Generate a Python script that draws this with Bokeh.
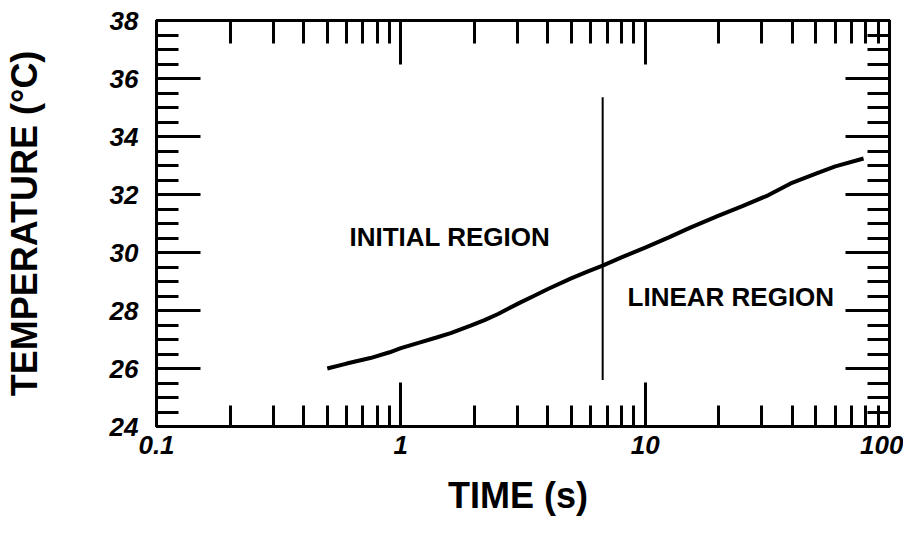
from bokeh.plotting import figure
from bokeh.models import (FixedTicker, LogAxis, LinearAxis, Label, CustomJSTickFormatter,
                          Range1d, ColumnDataSource)
from bokeh.embed import file_html
from bokeh.resources import INLINE

# ---- data ----
time_s = [0.5, 0.6, 0.75, 0.9, 1.0, 1.2, 1.4, 1.6, 1.93, 2.2, 2.5, 3.09, 3.5, 4.0, 4.95, 5.8, 6.7,
          8.0, 10.0, 12.5, 15.3, 20.0, 25.0, 32.0, 39.4, 50.0, 60.0, 78.3]
temp_c = [26.0, 26.17, 26.36, 26.56, 26.70, 26.90, 27.07, 27.22, 27.48, 27.67, 27.88, 28.28, 28.50,
          28.74, 29.10, 29.34, 29.55, 29.83, 30.17, 30.52, 30.86, 31.27, 31.60, 31.98, 32.38, 32.72,
          32.97, 33.24]

divider_x = [6.7]
divider_y0 = [25.6]
divider_y1 = [35.35]

x_major = [0.1, 1, 10, 100]
x_minor = [m * d for d in (0.1, 1, 10) for m in range(2, 10)]
y_major = [24, 26, 28, 30, 32, 34, 36, 38]
y_minor = [24 + 0.5 * i for i in range(29)]

FONT = "Liberation Sans"

p = figure(width=903, height=525, x_axis_type="log",
           x_range=Range1d(0.1, 100), y_range=Range1d(24, 38),
           output_backend="svg", toolbar_location=None,
           min_border_left=156, min_border_right=14, min_border_top=20, min_border_bottom=99)
p.xgrid.visible = False
p.ygrid.visible = False
p.outline_line_color = "black"
p.outline_line_width = 3
p.background_fill_color = "white"
p.border_fill_color = "white"

fmt = CustomJSTickFormatter(code="return String(parseFloat(tick.toPrecision(6)));")
blank = CustomJSTickFormatter(code="return '';")

def style_axis(ax, major, minor, labels=True, minor_len=21):
    ax.ticker = FixedTicker(ticks=major, minor_ticks=minor)
    ax.axis_line_color = "black"
    ax.axis_line_width = 3
    ax.major_tick_in = 44
    ax.major_tick_out = 0
    ax.minor_tick_in = minor_len
    ax.minor_tick_out = 0
    ax.major_tick_line_width = 3
    ax.minor_tick_line_width = 3
    ax.major_tick_line_color = "black"
    ax.minor_tick_line_color = "black"
    if labels:
        ax.major_label_text_font = FONT
        ax.major_label_text_font_style = "bold italic"
        ax.major_label_text_font_size = "26px"
        ax.major_label_text_color = "black"
    else:
        ax.formatter = blank
        ax.major_label_text_alpha = 0
        ax.major_label_standoff = 0

xa = p.xaxis[0]
style_axis(xa, x_major, x_minor, minor_len=21)
xa.formatter = fmt
xa.major_label_standoff = 9
xa.axis_label = "TIME  (s)"
xa.axis_label_text_font = FONT
xa.axis_label_text_font_style = "bold"
xa.axis_label_text_font_size = "36px"
xa.axis_label_text_color = "black"
xa.axis_label_standoff = 18

ya = p.yaxis[0]
style_axis(ya, y_major, y_minor, minor_len=22)
ya.major_label_standoff = 18
ya.axis_label = "TEMPERATURE (°C)"
ya.axis_label_text_font = FONT
ya.axis_label_text_font_style = "bold"
ya.axis_label_text_font_size = "36px"
ya.axis_label_text_color = "black"
ya.axis_label_standoff = 62

top = LogAxis()
style_axis(top, x_major, x_minor, labels=False, minor_len=23)
p.add_layout(top, "above")
right = LinearAxis()
style_axis(right, y_major, y_minor, labels=False, minor_len=22)
p.add_layout(right, "right")

src = ColumnDataSource(dict(x=time_s, y=temp_c))
p.line("x", "y", source=src, line_color="black", line_width=4)

p.segment(x0=divider_x, y0=divider_y0, x1=divider_x, y1=divider_y1,
          line_color="black", line_width=2)

p.add_layout(Label(x=0.616, y=30.55, text="INITIAL REGION", text_font=FONT,
                   text_font_style="bold", text_font_size="26px", text_color="black",
                   text_baseline="middle", text_align="left"))
p.add_layout(Label(x=8.47, y=28.48, text="LINEAR REGION", text_font=FONT,
                   text_font_style="bold", text_font_size="26px", text_color="black",
                   text_baseline="middle", text_align="left"))

open("out.html", "w").write(file_html(p, INLINE))
